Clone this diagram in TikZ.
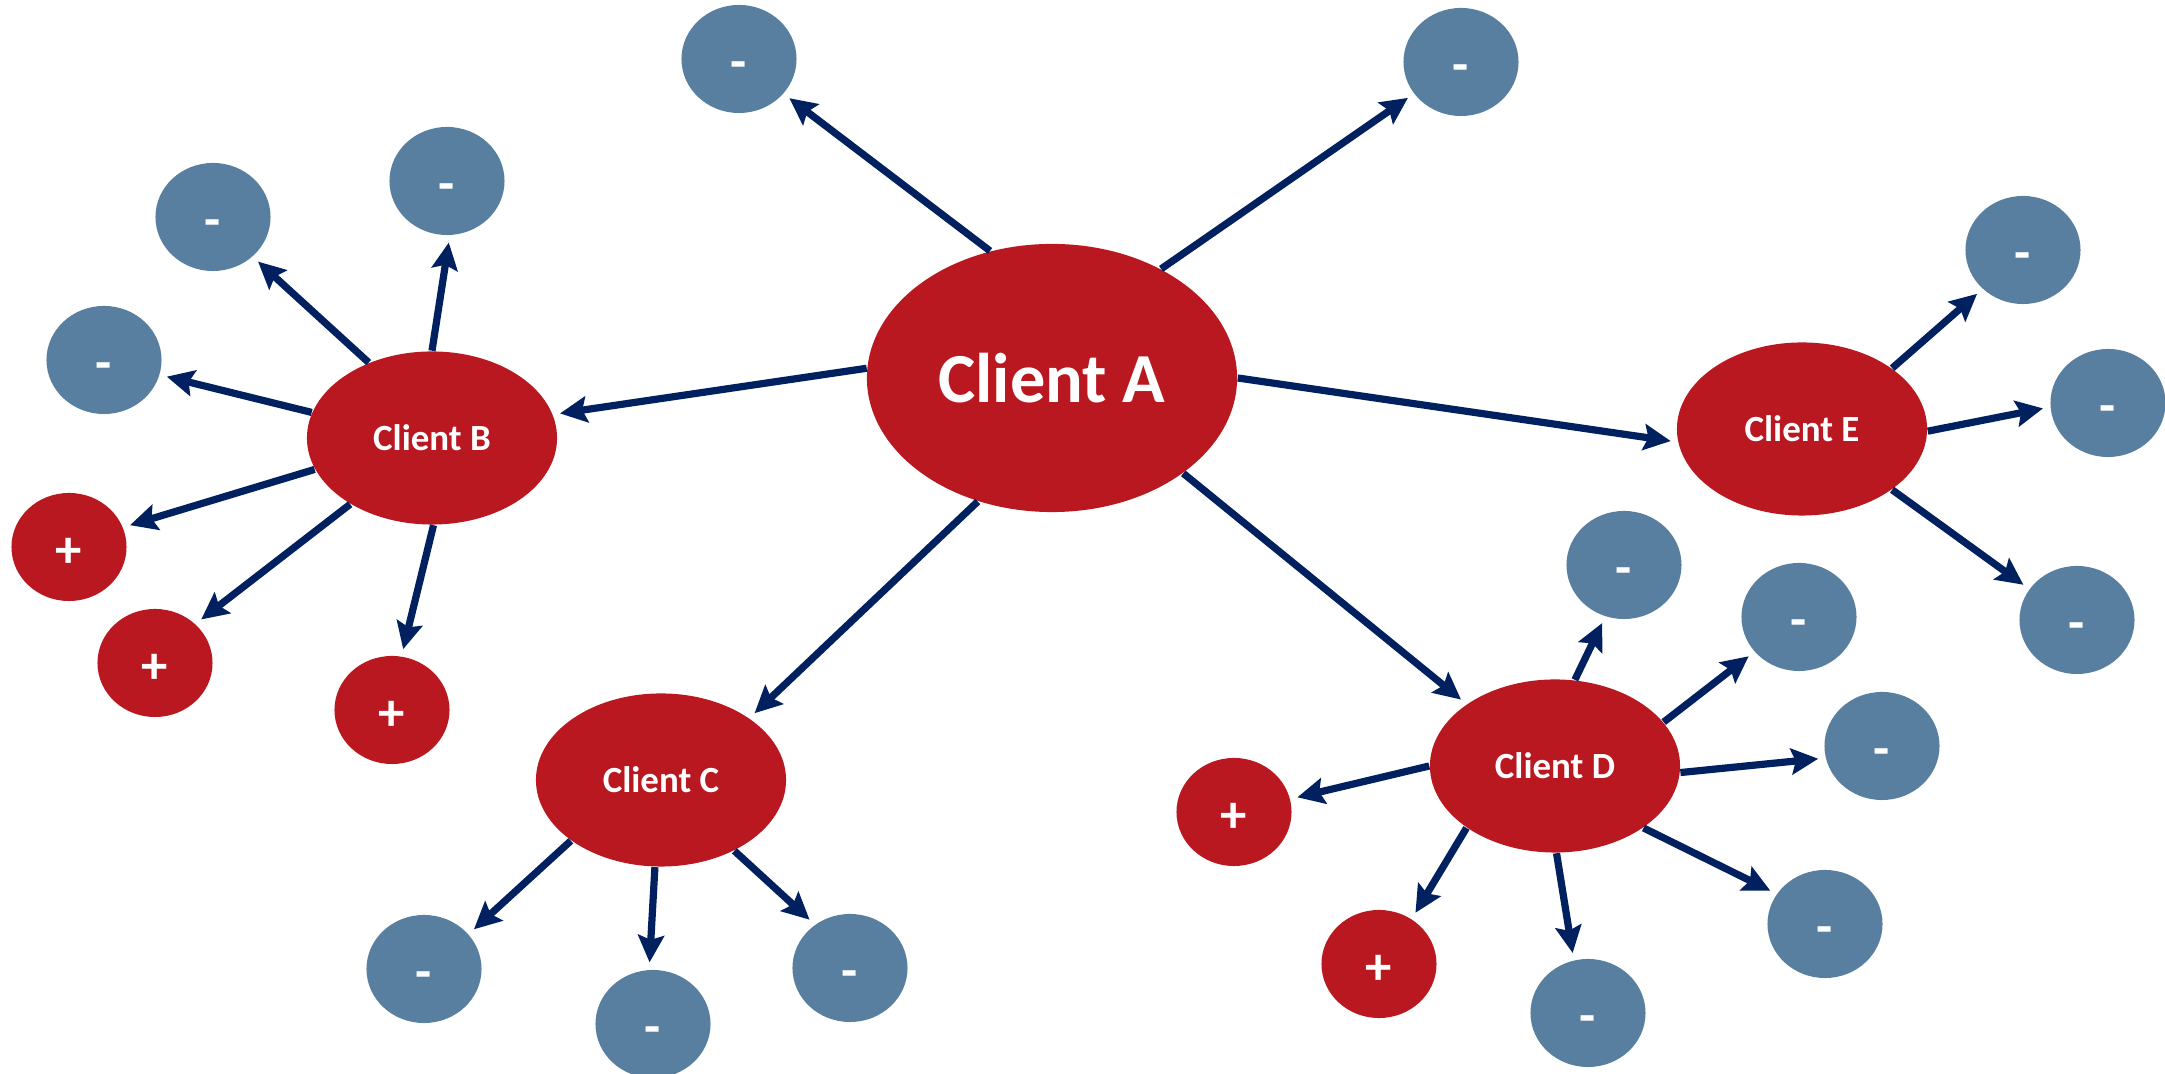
\documentclass[tikz,border=0pt]{standalone}
\usepackage{fontspec}
\setmainfont{Carlito}
\usetikzlibrary{arrows.meta,shapes.geometric}
\definecolor{clientred}{RGB}{186,24,32}
\definecolor{dotblue}{RGB}{88,127,159}
\definecolor{linknavy}{RGB}{0,32,96}
\tikzset{
	client/.style={ellipse, fill=clientred, text=white, inner sep=0pt, minimum width=2.5cm, minimum height=1.73cm, font=\bfseries\fontsize{10.5}{12}\selectfont},
	negdot/.style={ellipse, fill=dotblue, text=white, inner sep=0pt, minimum width=1.15cm, minimum height=1.08cm, text height=11.5pt, text depth=0pt, font=\bfseries\fontsize{15}{17}\selectfont},
	posdot/.style={negdot, fill=clientred},
	link/.style={draw=linknavy, line width=0.072cm, -{Stealth[length=0.27cm,width=0.26cm,inset=0.045cm]}, shorten >=0.07cm}
}

\begin{document}
\begin{tikzpicture}[x=0.01cm, y=-0.01cm]
				\useasboundingbox (0,0) rectangle (2165,1074);
				
				% clients
				\node[client, minimum width=3.7cm, minimum height=2.68cm, font=\bfseries\fontsize{20}{24}\selectfont] (A) at (1052,378) {Client A};
				\node[client] (B) at (432,438) {Client B};
				\node[client] (C) at (661,780) {Client C};
				\node[client] (D) at (1555,766) {Client D};
				\node[client] (E) at (1802,429) {Client E};
				
				% small dots
				\node[negdot] (a1) at (739,59) {-};
				\node[negdot] (a2) at (1461,62) {-};
				
				\node[negdot] (b1) at (447,181) {-};
				\node[negdot] (b2) at (213,217) {-};
				\node[negdot] (b3) at (104,360) {-};
				\node[posdot] (b4) at (69,547) {+};
				\node[posdot] (b5) at (155,663) {+};
				\node[posdot] (b6) at (392,710) {+};
				
				\node[negdot] (c1) at (424,969) {-};
				\node[negdot] (c2) at (653,1024) {-};
				\node[negdot] (c3) at (850,968) {-};
				
				\node[posdot] (d1) at (1234,812) {+};
				\node[posdot] (d2) at (1379,964) {+};
				\node[negdot] (d3) at (1588,1013) {-};
				\node[negdot] (d4) at (1825,924) {-};
				\node[negdot] (d5) at (1882,746) {-};
				\node[negdot] (d6) at (1799,617) {-};
				\node[negdot] (d7) at (1624,565) {-};
				
				\node[negdot] (e1) at (2023,250) {-};
				\node[negdot] (e2) at (2108,403) {-};
				\node[negdot] (e3) at (2077,620) {-};
				
				% links from A
				\draw[link] (A.116.6) -- (a1.-38.9);
				\draw[link] (A.45.7) -- (a2.-146.6);
				\draw[link] (A.177.4) -- (B.11.2);
				\draw[link] (A.0.4) -- (E.-174.4);
				\draw[link] (A.-121.1) -- (C.35.4);
				\draw[link] (A.-36.2) -- (D.145.2);
				
				% links from B
				\draw[link] (B.90) -- (b1.-87.4);
				\draw[link] (B.130.9) -- (b2.-45);
				\draw[link] (B.168.9) -- (b3.-15.4);
				\draw[link] (B.-165.2) -- (b4.20.9);
				\draw[link] (B.-141) -- (b5.44);
				\draw[link] (B.-89) -- (b6.80.5);
				
				% links from C
				\draw[link] (C.-146.7) -- (c1.38.5);
				\draw[link] (C.-94.5) -- (c2.94);
				\draw[link] (C.-44.4) -- (c3.129.5);
				
				% links from D
				\draw[link] (D.180) -- (d1.13.4);
				\draw[link] (D.-145.7) -- (d2.54.2);
				\draw[link] (D.-89.1) -- (d3.105.6);
				\draw[link] (D.-35.7) -- (d4.148.4);
				\draw[link] (D.-3.1) -- (d5.-168.2);
				\draw[link] (D.22.3) -- (d6.-142.4);
				\draw[link] (D.77.1) -- (d7.-110.6);
				
				% links from E
				\draw[link] (E.34.3) -- (e1.-136.8);
				\draw[link] (E.-1.3) -- (e2.-176.2);
				\draw[link] (E.-34.9) -- (e3.147.6);
			\end{tikzpicture}
\end{document}
